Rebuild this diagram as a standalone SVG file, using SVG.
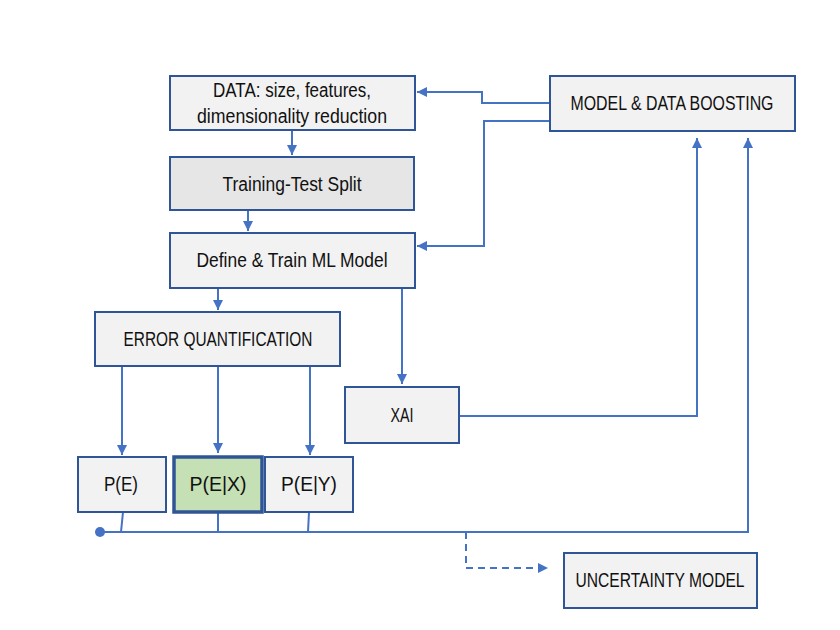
<svg xmlns="http://www.w3.org/2000/svg" width="840" height="630" viewBox="0 0 840 630">
<defs>
<style>
.box{fill:#f2f2f2;stroke:#2f5597;stroke-width:2}
.t{font-family:"Liberation Sans",Arial,sans-serif;font-size:19.5px;fill:#111;text-anchor:middle}
.c{fill:none;stroke:#4472c4;stroke-width:2}
</style>
<marker id="ah" viewBox="0 0 10 10" refX="10" refY="5" markerWidth="5" markerHeight="5" orient="auto" markerUnits="strokeWidth">
<path d="M0,0 L10,5 L0,10 z" fill="#4472c4"/>
</marker>
</defs>
<rect width="840" height="630" fill="#fff"/>
<g id="connectors">
<path class="c" d="M292,130 V155" marker-end="url(#ah)"/>
<path class="c" d="M248,210 V231" marker-end="url(#ah)"/>
<path class="c" d="M218,288 V310" marker-end="url(#ah)"/>
<path class="c" d="M402,288 V384" marker-end="url(#ah)"/>
<path class="c" d="M122,366 V455" marker-end="url(#ah)"/>
<path class="c" d="M218,366 V453" marker-end="url(#ah)"/>
<path class="c" d="M310,366 V455" marker-end="url(#ah)"/>
<path class="c" d="M550,103 H482 V92 H417" marker-end="url(#ah)"/>
<path class="c" d="M550,121 H484 V246 H417" marker-end="url(#ah)"/>
<path class="c" d="M459,416 H697 V138" marker-end="url(#ah)"/>
<path class="c" d="M100,532 H748 V138" marker-end="url(#ah)"/>
<path class="c" d="M123,512 L121,532 M218,513 V532 M309,512 L308,532"/>
<circle cx="100" cy="532" r="5" fill="#4472c4"/>
<path class="c" d="M466,532 V568 H548" stroke-dasharray="7,5" marker-end="url(#ah)"/>
</g>
<g id="data"><rect class="box" x="170" y="76" width="245" height="54"/><text class="t" x="292" y="97" textLength="158" lengthAdjust="spacingAndGlyphs">DATA: size, features,</text><text class="t" x="292" y="123" textLength="190" lengthAdjust="spacingAndGlyphs">dimensionality reduction</text></g>
<g id="split"><rect class="box" x="170" y="157" width="244" height="53" style="fill:#e6e6e6"/><text class="t" x="292" y="191" textLength="139" lengthAdjust="spacingAndGlyphs">Training-Test Split</text></g>
<g id="train"><rect class="box" x="170" y="233" width="245" height="55"/><text class="t" x="292" y="267" textLength="191" lengthAdjust="spacingAndGlyphs">Define &amp; Train ML Model</text></g>
<g id="error"><rect class="box" x="95" y="312" width="245" height="54"/><text class="t" x="218" y="346" textLength="189" lengthAdjust="spacingAndGlyphs">ERROR QUANTIFICATION</text></g>
<g id="xai"><rect class="box" x="345" y="387" width="114" height="56"/><text class="t" x="402" y="422" textLength="23" lengthAdjust="spacingAndGlyphs">XAI</text></g>
<g id="pe"><rect class="box" x="78" y="457" width="88" height="55"/><text class="t" x="121" y="491" textLength="34" lengthAdjust="spacingAndGlyphs">P(E)</text></g>
<g id="pex"><rect class="box" x="174" y="457" width="88" height="55" style="fill:#c5e0b4;stroke-width:3.5"/><text class="t" x="218" y="491" textLength="57" lengthAdjust="spacingAndGlyphs">P(E|X)</text></g>
<g id="pey"><rect class="box" x="265" y="457" width="88" height="55"/><text class="t" x="309" y="491" textLength="56" lengthAdjust="spacingAndGlyphs">P(E|Y)</text></g>
<g id="boost"><rect class="box" x="550" y="76" width="245" height="55"/><text class="t" x="672" y="110" textLength="203" lengthAdjust="spacingAndGlyphs">MODEL &amp; DATA BOOSTING</text></g>
<g id="uncert"><rect class="box" x="564" y="553" width="193" height="55"/><text class="t" x="660" y="587" textLength="169" lengthAdjust="spacingAndGlyphs">UNCERTAINTY MODEL</text></g>
</svg>
